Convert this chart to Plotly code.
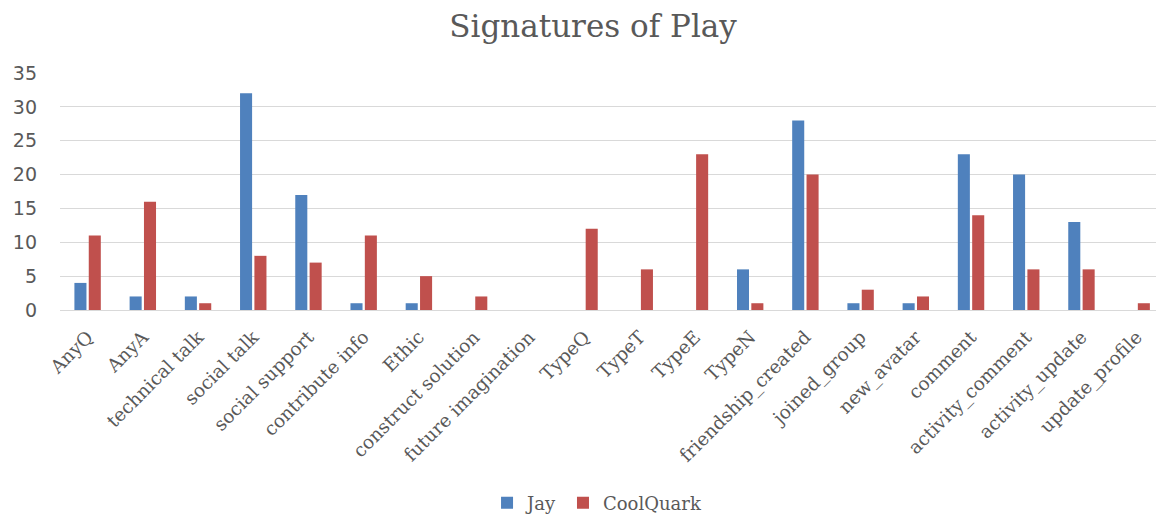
import plotly.graph_objects as go

categories = ["AnyQ", "AnyA", "technical talk", "social talk", "social support",
              "contribute info", "Ethic", "construct solution", "future imagination",
              "TypeQ", "TypeT", "TypeE", "TypeN", "friendship_created", "joined_group",
              "new_avatar", "comment", "activity_comment", "activity_update", "update_profile"]
jay = [4, 2, 2, 32, 17, 1, 1, 0, 0, 0, 0, 0, 6, 28, 1, 1, 23, 20, 13, 0]
coolquark = [11, 16, 1, 8, 7, 11, 5, 2, 0, 12, 6, 23, 1, 20, 3, 2, 14, 6, 6, 1]
y_ticks = [0, 5, 10, 15, 20, 25, 30, 35]

fig = go.Figure()
fig.add_trace(go.Bar(x=categories, y=jay, name="Jay", marker_color="#4F81BD",
                     marker_line_width=0))
fig.add_trace(go.Bar(x=categories, y=coolquark, name="CoolQuark", marker_color="#C0504D",
                     marker_line_width=0))

fig.update_layout(
    width=1156, height=520,
    margin=dict(l=60, r=0, t=73, b=210, autoexpand=False),
    paper_bgcolor="white", plot_bgcolor="white",
    title=dict(text="Signatures of Play", x=0.513, xanchor="center", y=0.95, yanchor="middle",
               font=dict(family="DejaVu Serif", size=31, color="#595959")),
    barmode="group", bargap=0.48, bargroupgap=0.16,
    showlegend=True,
    legend=dict(orientation="h", x=0.49, xanchor="center", y=-0.815, yanchor="middle",
                font=dict(family="DejaVu Serif", size=18, color="#595959"),
                itemwidth=30),
    xaxis=dict(range=[-0.5, 19.35], tickangle=-45, automargin=False,
               tickfont=dict(family="DejaVu Serif", size=18.5, color="#595959"),
               showline=True, linecolor="#D9D9D9", ticks="", ticklabelstandoff=8),
    yaxis=dict(range=[0, 35], tickvals=y_ticks, showgrid=True, gridcolor="#D9D9D9",
               zeroline=False, automargin=False,
               tickfont=dict(family="DejaVu Sans", size=19, color="#595959"),
               ticklabelstandoff=22),
)

fig.write_html("out.html")
